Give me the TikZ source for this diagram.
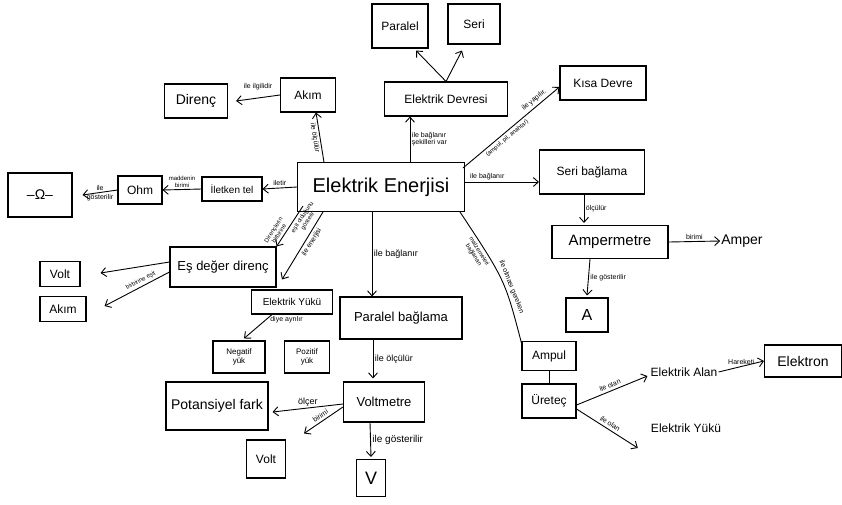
\documentclass[tikz,border=0pt]{standalone}
\usepackage{fontspec}
\setmainfont{Liberation Sans}
\usetikzlibrary{arrows.meta,calc}
\tikzset{
  bx/.style={draw, line width=1.1pt, inner sep=2pt, align=center, font=\fontsize{12}{13}\selectfont},
  plain/.style={inner sep=1pt, font=\fontsize{12}{13}\selectfont},
  lbl/.style={inner sep=1.5pt, align=center, font=\fontsize{7}{7.5}\selectfont},
  tiny/.style={inner sep=1.5pt, align=center, font=\fontsize{6}{6.5}\selectfont},
  arr/.style={-{Straight Barb[length=5pt,width=9pt]}, line width=0.9pt},
  ln/.style={line width=0.9pt}
}
\begin{document}
\begin{tikzpicture}[x=1pt,y=-1pt]
\useasboundingbox (0,0) rectangle (842,504);
% nodes
\node[bx, minimum width=56, minimum height=44] (par) at (400,26) {Paralel};
\node[bx, minimum width=52, minimum height=40] (seri) at (474,24) {Seri};
\node[bx, minimum width=123, minimum height=34] (devre) at (446,99) {Elektrik Devresi};
\node[bx, minimum width=86, minimum height=34] (kisa) at (603,83) {Kısa Devre};
\node[bx, minimum width=63, minimum height=34, font=\fontsize{14}{15}\selectfont] (direnc) at (196,101) {Direnç};
\node[bx, minimum width=55, minimum height=34] (atim) at (308,95) {Akım};
\node[bx, minimum width=167, minimum height=49, font=\fontsize{20}{22}\selectfont] (ee) at (381,187) {Elektrik Enerjisi};
\node[bx, minimum width=105, minimum height=44] (seribag) at (592,172) {Seri bağlama};
\node[bx, minimum width=116, minimum height=33, font=\fontsize{15}{16}\selectfont] (amper) at (610,242) {Ampermetre};
\node[plain, font=\fontsize{14}{15}\selectfont] (ampertxt) at (742,241) {Amper};
\node[bx, minimum width=42, minimum height=34, font=\fontsize{16}{17}\selectfont] (A) at (587,315) {A};
\node[bx, minimum width=60, minimum height=24, font=\fontsize{10}{11}\selectfont] (ilet) at (232,189) {İletken tel};
\node[bx, minimum width=44, minimum height=28] (ohm) at (140,190) {Ohm};
\node[bx, minimum width=64, minimum height=44, font=\fontsize{14}{15}\selectfont] (omega) at (40,195) {–Ω–};
\node[bx, minimum width=106, minimum height=40, font=\fontsize{13}{14}\selectfont] (esdeger) at (223,267) {Eş değer direnç};
\node[bx, minimum width=40, minimum height=25] (voltL) at (60,274) {Volt};
\node[bx, minimum width=46, minimum height=25] (akimL) at (63,309) {Akım};
\node[bx, minimum width=81, minimum height=24, font=\fontsize{10}{11}\selectfont] (eyuk) at (292,302) {Elektrik Yükü};
\node[bx, minimum width=122, minimum height=42, font=\fontsize{13}{14}\selectfont] (parbag) at (401,318) {Paralel bağlama};
\node[bx, minimum width=52, minimum height=32, font=\fontsize{8}{9}\selectfont] (neg) at (239,357) {Negatif\\yük};
\node[bx, minimum width=45, minimum height=32, font=\fontsize{8}{9}\selectfont] (poz) at (307,357) {Pozitif\\yük};
\node[bx, minimum width=102, minimum height=48, font=\fontsize{14}{15}\selectfont] (pot) at (217,406) {Potansiyel fark};
\node[bx, minimum width=81, minimum height=40, font=\fontsize{13}{14}\selectfont] (volm) at (384,402) {Voltmetre};
\node[bx, minimum width=39, minimum height=38] (voltB) at (266,459) {Volt};
\node[bx, minimum width=29, minimum height=37, font=\fontsize{18}{19}\selectfont] (V) at (371,478) {V};
\node[bx, minimum width=54, minimum height=29] (ampul) at (549,356) {Ampul};
\node[bx, minimum width=54, minimum height=34] (uretec) at (549,401) {Üreteç};
\node[plain] (ealan) at (684,372) {Elektrik Alan};
\node[bx, minimum width=77, minimum height=32, font=\fontsize{14}{15}\selectfont] (elektron) at (803,361) {Elektron};
\node[plain] (eyuk2) at (686,428) {Elektrik Yükü};
% connectors
\draw[arr] (devre.north) -- ($(par.south)+(16,2)$);
\draw[arr] (devre.north) -- ($(seri.south)+(-12,6)$);
\draw[arr] ($(ee.north)+(29,0)$) -- ($(devre.south)+(-36,0)$)
  node[lbl, midway, right, align=left] {ile bağlanır\\şekilleri var};
\draw[arr] ($(ee.north east)+(-2,6)$) -- ($(kisa.west)+(0,4)$)
  node[lbl, pos=0.78, above=1pt, sloped] {ile yapılır.}
  node[tiny, pos=0.42, below=1pt, sloped] {(ampul, pil, anahtar)};
\draw[arr] ($(ee.east)+(0,-5)$) -- ($(seribag.west)+(0,10)$)
  node[lbl, pos=0.3, above] {ile bağlanır};
\draw[arr] ($(seribag.south)+(-8,0)$) -- ($(amper.north)+(-26,-2)$)
  node[lbl, midway, right] {ölçülür};
\draw[arr] (amper.east) -- (ampertxt.west)
  node[lbl, midway, above] {birimi};
\draw[arr] ($(amper.south)+(-20,0)$) -- ($(A.north)+(0,-2)$)
  node[lbl, midway, right] {ile gösterilir};
\draw[arr] ($(ee.north west)+(27,0)$) -- ($(atim.south)+(8,0)$)
  node[lbl, midway, below, sloped] {ile ölçülür};
\draw[arr] (atim.west) -- ($(direnc.east)+(8,0)$)
  node[lbl, midway, above=6pt] {ile ilgilidir};
\draw[arr] (ee.west) -- (ilet.east)
  node[lbl, midway, above] {iletir};
\draw[arr] (ilet.west) -- (ohm.east)
  node[tiny, midway, above] {maddenin\\birimi};
\draw[arr] (ohm.west) -- ($(omega.east)+(10,0)$)
  node[lbl, midway, above] {ile}
  node[lbl, midway, below] {gösterilir};
\draw[arr] ($(ee.south west)+(6,-6)$) -- (esdeger.north east)
  node[tiny, pos=0.75, above=1pt, sloped] {Dirençlerin\\birbirine}
  node[tiny, pos=0.2, below=1pt, sloped] {eşit olduğunu\\gösterir};
\draw[arr] ($(ee.south west)+(26,0)$) -- ($(eyuk.north)+(-10,-10)$)
  node[lbl, pos=0.4, below=1pt, sloped] {ile enerjisi};
\draw[arr] ($(ee.south)+(-9,0)$) -- ($(parbag.north)+(-29,0)$)
  node[lbl, midway, right, font=\fontsize{9}{10}\selectfont] {ile bağlanır};
\draw[ln] ($(ee.south east)+(-5,0)$) .. controls (505,280) .. ($(ampul.north west)+(0,2)$)
  node[lbl, pos=0.6, above=1pt, sloped] {ile olması gereken}
  node[tiny, pos=0.22, below=1pt, sloped] {malzemeleri\\bağlanan};
\draw[arr] ($(esdeger.west)+(0,-5)$) -- ($(voltL.east)+(20,-1)$);
\draw[arr] ($(esdeger.west)+(0,5)$) -- ($(akimL.east)+(18,-3)$)
  node[tiny, pos=0.4, above=1pt, sloped] {birbirine eşit};
\draw[arr] ($(eyuk.south)+(-20,0)$) -- ($(neg.north)+(5,-2)$)
  node[lbl, pos=0.2, right=2pt] {diye ayrılır};
\draw[arr] ($(parbag.south)+(-28,0)$) -- ($(volm.north)+(-11,-3)$)
  node[lbl, midway, right, font=\fontsize{9}{10}\selectfont] {ile ölçülür};
\draw[arr] ($(volm.west)+(0,2)$) -- ($(pot.east)+(4,6)$)
  node[lbl, midway, above, font=\fontsize{9}{10}\selectfont] {ölçer};
\draw[arr] ($(volm.west)+(0,5)$) -- ($(voltB.north east)+(18,-6)$)
  node[lbl, midway, above=1pt, sloped] {birimi};
\draw[arr] ($(volm.south)+(-14,0)$) -- ($(V.north)+(0,-2)$)
  node[lbl, midway, right, font=\fontsize{10}{11}\selectfont] {ile gösterilir};
\draw[ln] (ampul.south) -- (uretec.north);
\draw[arr] ($(uretec.east)+(0,4)$) -- ($(ealan.west)+(-2,4)$)
  node[lbl, midway, above=1pt, sloped] {ile olan};
\draw[arr] ($(uretec.east)+(0,8)$) -- ($(eyuk2.west)+(-12,20)$)
  node[lbl, midway, above=1pt, sloped] {ile olan};
\draw[arr] (ealan.east) -- (elektron.west)
  node[lbl, midway, above] {Hareketi};
\end{tikzpicture}
\end{document}
